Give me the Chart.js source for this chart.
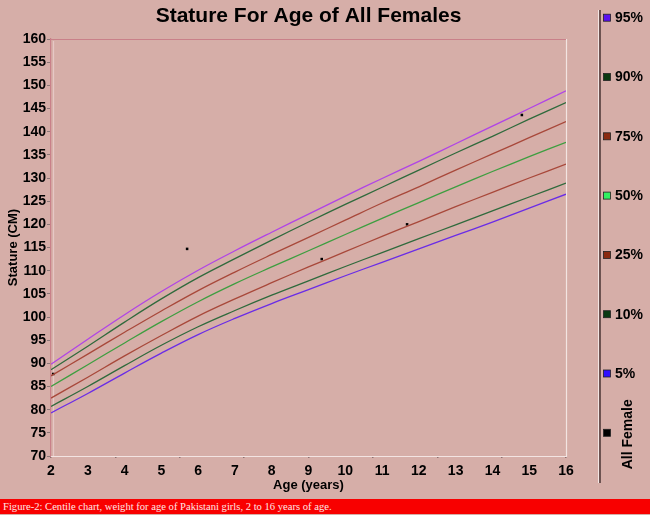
<!DOCTYPE html>
<html>
<head>
<meta charset="utf-8">
<script src="https://cdn.jsdelivr.net/npm/chart.js@4.4.1/dist/chart.umd.min.js"></script>
<style>
  html, body { margin: 0; padding: 0; background: #d6aea8; }
  #wrap { position: relative; width: 650px; height: 499px; }
  #cap { position: absolute; left: 0; top: 499px; width: 647px; height: 15px; padding-left: 3px;
         background: #f80000; color: #ffe6e6; font: 10.6px "Liberation Serif", "DejaVu Serif", serif;
         line-height: 15px; white-space: nowrap; }
</style>
</head>
<body>
<div id="wrap"><canvas id="c" width="650" height="499"></canvas></div>
<div id="cap">Figure-2: Centile chart, weight for age of Pakistani girls, 2 to 16 years of age.</div>
<script>
// ---- data ----
const ages = [2, 3, 4, 5, 6, 7, 8, 9, 10, 11, 12, 13, 14, 15, 16];
const p95 = [89.8, 95.2, 100.5, 105.5, 110.1, 114.3, 118.3, 122.2, 126.1, 129.9, 133.6, 137.4, 141.2, 145.0, 148.8];
const p90 = [88.6, 93.7, 98.9, 103.9, 108.5, 112.6, 116.6, 120.5, 124.3, 128.0, 131.7, 135.4, 139.0, 142.7, 146.3];
const p75 = [87.3, 92.0, 96.7, 101.3, 105.7, 109.7, 113.5, 117.2, 120.9, 124.6, 128.1, 131.7, 135.2, 138.7, 142.2];
const p50 = [85.0, 89.7, 94.4, 99.0, 103.3, 107.2, 110.8, 114.3, 117.8, 121.3, 124.7, 128.1, 131.4, 134.6, 137.7];
const p25 = [82.5, 87.0, 91.6, 96.0, 100.2, 103.9, 107.4, 110.8, 114.1, 117.4, 120.6, 123.8, 126.9, 130.0, 133.0];
const p10 = [80.7, 85.0, 89.5, 93.9, 97.9, 101.4, 104.7, 107.8, 110.9, 113.9, 116.9, 119.9, 122.9, 125.9, 128.9];
const p5  = [79.3, 83.5, 87.9, 92.2, 96.2, 99.7, 102.9, 105.9, 108.9, 111.8, 114.7, 117.6, 120.5, 123.5, 126.5];
const femaleAges = [2.06, 5.70, 9.36, 11.68, 14.80];
const femaleStature = [87.7, 114.7, 112.5, 120.0, 143.6];
const xTickLabels = ['2','3','4','5','6','7','8','9','10','11','12','13','14','15','16'];
const yMin = 70, yMax = 160, yStep = 5;
const xMin = 2, xMax = 16;

const FONT = '"Liberation Sans", Arial, sans-serif';

function line(label, vals, color, legendColor) {
  return {
    type: 'line', label: label,
    data: ages.map((a, i) => ({ x: a, y: vals[i] })),
    borderColor: color, borderWidth: 1.3, pointRadius: 0,
    tension: 0.4, fill: false,
    legendColor: legendColor
  };
}

const datasets = [
  line('95%', p95, '#b044e6', '#5a10f0'),
  line('90%', p90, '#2f6a3c', '#0b3a12'),
  line('75%', p75, '#a8483a', '#8a2a10'),
  line('50%', p50, '#3e9e40', '#30f060'),
  line('25%', p25, '#a8483a', '#8a2a10'),
  line('10%', p10, '#2f6a3c', '#0b3a12'),
  line('5%',  p5,  '#6a2ce6', '#3010ff'),
  {
    type: 'scatter', label: 'All Female',
    data: femaleAges.map((a, i) => ({ x: a, y: femaleStature[i] })),
    pointStyle: 'rect', pointRadius: 1.8, backgroundColor: '#000', borderColor: '#000', borderWidth: 0,
    legendColor: '#000'
  }
];

const framePlugin = {
  id: 'frame',
  beforeDatasetsDraw(chart) {
    const { ctx, chartArea: a } = chart;
    ctx.save();
    ctx.lineWidth = 1.2;
    ctx.strokeStyle = '#f3e4e2';
    ctx.beginPath();
    ctx.moveTo(a.right + 0.5, a.top); ctx.lineTo(a.right + 0.5, a.bottom + 0.5);
    ctx.lineTo(a.left, a.bottom + 0.5);
    ctx.stroke();
    ctx.strokeStyle = '#e6c8c6';
    ctx.beginPath();
    ctx.moveTo(a.left + 2.5, a.top + 2); ctx.lineTo(a.left + 2.5, a.bottom);
    ctx.stroke();
    ctx.strokeStyle = '#c98089';
    ctx.beginPath();
    ctx.moveTo(a.left, a.top + 0.5); ctx.lineTo(a.right, a.top + 0.5);
    ctx.stroke();
    ctx.restore();
  }
};

const legendPlugin = {
  id: 'sideLegend',
  afterDraw(chart) {
    const { ctx } = chart;
    ctx.save();
    ctx.strokeStyle = '#f4e6e4'; ctx.lineWidth = 1;
    ctx.beginPath(); ctx.moveTo(598.5, 10); ctx.lineTo(598.5, 483); ctx.stroke();
    ctx.strokeStyle = '#4a3434'; ctx.lineWidth = 1.5;
    ctx.beginPath(); ctx.moveTo(600, 10); ctx.lineTo(600, 483); ctx.stroke();
    const items = chart.data.datasets;
    const top = 17.7, gap = 59.3;
    ctx.font = 'bold 14px ' + FONT;
    ctx.textBaseline = 'middle';
    items.forEach((ds, i) => {
      const cy = top + gap * i;
      ctx.fillStyle = ds.legendColor;
      ctx.fillRect(603.5, cy - 3.5, 7, 7);
      ctx.strokeStyle = '#222'; ctx.lineWidth = 0.8;
      ctx.strokeRect(603.5, cy - 3.5, 7, 7);
      ctx.fillStyle = '#000';
      if (ds.type === 'scatter') {
        ctx.save();
        ctx.translate(628, cy + 1.5);
        ctx.rotate(-Math.PI / 2);
        ctx.textAlign = 'center';
        ctx.fillText(ds.label, 0, 0);
        ctx.restore();
      } else {
        ctx.textAlign = 'left';
        ctx.fillText(ds.label, 615, cy + 0.5);
      }
    });
    ctx.restore();
  }
};

new Chart(document.getElementById('c'), {
  data: { datasets: datasets },
  plugins: [framePlugin, legendPlugin],
  options: {
    responsive: false,
    animation: false,
    layout: { padding: { left: 4, right: 84, top: 0, bottom: 6 } },
    plugins: {
      legend: { display: false },
      tooltip: { enabled: false },
      title: {
        display: true, text: 'Stature For Age of All Females', color: '#000',
        fullSize: false,
        font: { family: FONT, size: 21, weight: 'bold', lineHeight: 1.2 },
        padding: { top: 4, bottom: 9.8 }
      }
    },
    scales: {
      x: {
        type: 'linear', position: 'bottom', min: xMin, max: xMax, weight: 1,
        afterBuildTicks: s => { s.ticks = xTickLabels.map(t => ({ value: Number(t) })); },
        afterFit: s => { s.height = 34; },
        ticks: { color: '#000', font: { family: FONT, size: 14, weight: 'bold' }, padding: 4,
                 autoSkip: false, maxRotation: 0, callback: v => String(v) },
        grid: { display: false, drawTicks: false },
        border: { display: false },
        title: { display: true, text: 'Age (years)', color: '#000',
                 font: { family: FONT, size: 13, weight: 'bold' }, padding: { top: 0, bottom: 0 } }
      },
      xMarks: {
        type: 'linear', position: 'bottom', min: xMin, max: xMax, weight: 0,
        afterFit: s => { s.height = 3; },
        ticks: { display: false, stepSize: (xMax - xMin) / 8 },
        grid: { drawOnChartArea: false, drawTicks: true, tickLength: 2, color: '#8c7070', lineWidth: 1.5 },
        border: { display: false }
      },
      y: {
        type: 'linear', position: 'left', min: yMin, max: yMax,
        afterFit: s => { s.width = 47; },
        ticks: { stepSize: yStep, color: '#000', padding: 1,
                 font: { family: FONT, size: 14, weight: 'bold' } },
        grid: { drawOnChartArea: false, drawTicks: true, tickLength: 4, color: '#8c7878' },
        border: { display: true, color: '#c98089', width: 1.2 },
        title: { display: true, text: 'Stature (CM)', color: '#000',
                 font: { family: FONT, size: 13, weight: 'bold' }, padding: { top: 2, bottom: 0 } }
      }
    }
  }
});
</script>
</body>
</html>
